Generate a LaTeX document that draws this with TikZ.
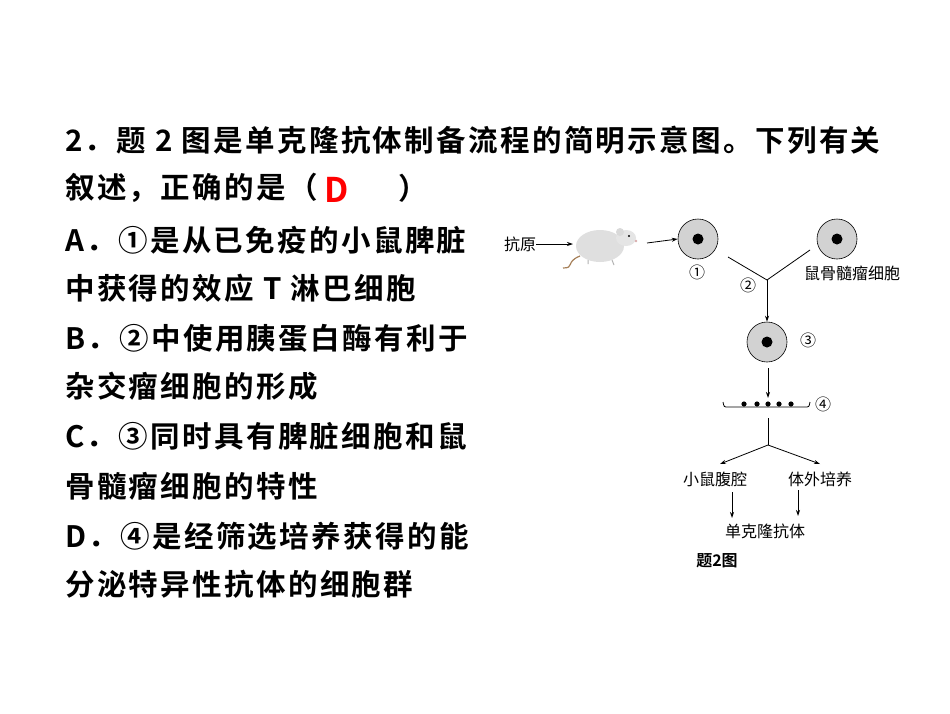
\documentclass[tikz,border=0pt]{standalone}
\usepackage{fontspec}
\newfontfamily\cjkb[LetterSpace=8]{Noto Sans CJK SC Bold}
\newfontfamily\cjkc{Noto Sans CJK SC Bold}
\newfontfamily\song{Noto Sans CJK SC}
\usetikzlibrary{arrows.meta}
\begin{document}
\begin{tikzpicture}[x=1pt,y=-1pt,
  q/.style={anchor=west,inner sep=0pt,font=\cjkb\fontsize{29.5}{29.5}\selectfont},
  lab/.style={inner sep=0pt,font=\song\fontsize{16}{16}\selectfont},
  cell/.style={circle,draw=black,fill=gray!35,minimum size=40pt,inner sep=0pt,line width=0.6pt},
  arr/.style={-{Stealth[length=6pt,width=4pt]},line width=0.8pt},
  ln/.style={line width=0.8pt}]
\useasboundingbox (0,0) rectangle (950,713);
\fill[white] (0,0) rectangle (950,713);
\node[q] (l1) at (65,140) {2．题 2 图是单克隆抗体制备流程的简明示意图。下列有关};
\node[q] (l2) at (65,188) {叙述，正确的是（};
\node[inner sep=0pt,font=\cjkc\fontsize{34}{34}\selectfont,text=red] (ans) at (337,190) {D};
\node[q] (l2b) at (398,188) {）};
\node[q] (l3) at (65,240) {A．①是从已免疫的小鼠脾脏};
\node[q] (l4) at (65,288) {中获得的效应 T 淋巴细胞};
\node[q] (l5) at (65,338) {B．②中使用胰蛋白酶有利于};
\node[q] (l6) at (65,386) {杂交瘤细胞的形成};
\node[q] (l7) at (65,436) {C．③同时具有脾脏细胞和鼠};
\node[q] (l8) at (65,486) {骨髓瘤细胞的特性};
\node[q] (l9) at (65,536) {D．④是经筛选培养获得的能};
\node[q] (l10) at (65,584) {分泌特异性抗体的细胞群};
% diagram
\node[lab] (ag) at (520,244) {抗原};
% mouse
\draw[brown!60!gray,line width=1.2pt] (580,256) .. controls (565,262) and (575,268) .. (563,268);
\fill[gray!25] (600,246) ellipse (24pt and 16pt);
\fill[gray!20] (626,238) ellipse (10pt and 8pt);
\fill[gray!30] (620,232) ellipse (4pt and 4pt);
\fill[black] (629,236) circle (1.2pt);
\fill[pink!70!gray] (636,241) circle (1.3pt);
\draw[gray!60,line width=1pt] (588,260)--(588,264) (612,260)--(614,265);
\coordinate (mL) at (573,244);
\coordinate (mR) at (647,243);
\draw[arr] (ag.east) -- (mL);
\node[cell] (c1) at (698,239) {};
\fill (c1) circle (5.5pt);
\draw[arr] (mR) -- (c1.west);
\node[cell] (c2) at (837,239) {};
\fill (c2) circle (5.5pt);
\node[lab] (n1) at (697,272) {①};
\node[lab] (my) at (852,273) {鼠骨髓瘤细胞};
\coordinate (y1) at (728,257);
\coordinate (y2) at (810,250);
\coordinate (yj) at (767,280);
\draw[ln] (y1) -- (yj) -- (y2);
\node[lab] (n2) at (748,285) {②};
\node[cell] (c3) at (767,342) {};
\fill (c3) circle (5.5pt);
\draw[arr] (yj) -- (c3.north);
\node[lab] (n3) at (808,340) {③};
\coordinate (d1) at (768,368);
\coordinate (d2) at (768,398);
\draw[arr] (d1) -- (d2);
\draw[ln] (723,402) .. controls (724,407) .. (728,407) -- (805,407) .. controls (809,407) .. (810,402);
\foreach \x in {744,757,768,779,791} \fill (\x,404) circle (2.6pt);
\node[lab] (n4) at (823,404) {④};
\coordinate (b0) at (768,418);
\coordinate (b1) at (768,445);
\draw[ln] (b0) -- (b1);
\node[lab] (ip) at (715,479) {小鼠腹腔};
\node[lab] (iv) at (820,479) {体外培养};
\draw[arr] (b1) -- (720,464);
\draw[arr] (b1) -- (820,464);
\node[lab] (mab) at (765,531) {单克隆抗体};
\draw[arr] (732,492) -- (732,518);
\draw[arr] (798,490) -- (798,516);
\node[inner sep=0pt,font=\cjkc\fontsize{16}{16}\selectfont] (cap) at (717,561) {题2图};
\end{tikzpicture}
\end{document}
